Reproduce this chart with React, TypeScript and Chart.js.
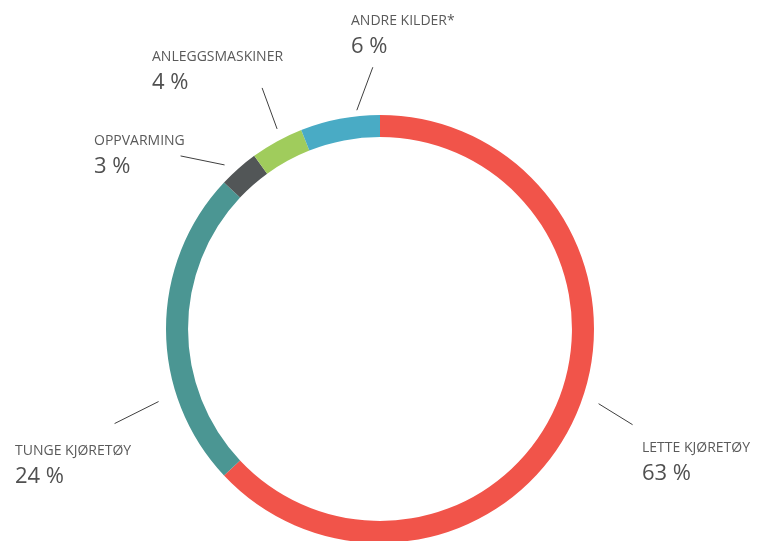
import React, { useEffect, useRef } from "react";
import { Chart, registerables } from "chart.js";

Chart.register(...registerables);

const categories = ["LETTE KJØRETØY", "TUNGE KJØRETØY", "OPPVARMING", "ANLEGGSMASKINER", "ANDRE KILDER*"];
const shares = [63, 24, 3, 4, 6];
const percentLabels = ["63 %", "24 %", "3 %", "4 %", "6 %"];
const colors = ["#F1544A", "#4B9693", "#525657", "#A0CC5C", "#49ABC5"];

// annotation layout: where along each arc the leader line starts, gap from the ring,
// line vector, and text anchor relative to chart centre
const leaderFrac = [0.48, 0.29, 0.31, 0.61, 0.72];
const leaderGap = [17, 19, 12, 11, 6];
const leaderVec = [[34, 21], [-44, 22], [-44, -9], [-15, -41], [16, -43]];
const textPos = [[262, 123], [-365, 126], [-286, -184], [-228, -268], [-29, -304]];

const labelPlugin = {
  id: "leaderLabels",
  afterDraw(chart: any) {
    const ctx = chart.ctx;
    const meta = chart.getDatasetMeta(0);
    ctx.save();
    meta.data.forEach((arc: any, i: number) => {
      const { x: cx, y: cy, startAngle, endAngle, outerRadius } = arc.getProps(
        ["x", "y", "startAngle", "endAngle", "outerRadius"],
        true
      );
      const a = startAngle + (endAngle - startAngle) * leaderFrac[i];
      const r = outerRadius + leaderGap[i];
      const sx = cx + Math.cos(a) * r;
      const sy = cy + Math.sin(a) * r;
      ctx.beginPath();
      ctx.strokeStyle = "#3f3f3f";
      ctx.lineWidth = 1;
      ctx.moveTo(sx, sy);
      ctx.lineTo(sx + leaderVec[i][0], sy + leaderVec[i][1]);
      ctx.stroke();

      const tx = cx + textPos[i][0];
      const ty = cy + textPos[i][1];
      ctx.textAlign = "left";
      ctx.textBaseline = "alphabetic";
      ctx.fillStyle = "#5a5a5a";
      ctx.font = "14px 'Open Sans'";
      ctx.fillText(categories[i], tx, ty);
      ctx.fillStyle = "#505050";
      ctx.font = "22px 'Open Sans'";
      ctx.fillText(percentLabels[i], tx, ty + 28);
    });
    ctx.restore();
  },
};

export default function App() {
  const ref = useRef<HTMLCanvasElement>(null);
  useEffect(() => {
    if (!ref.current) return;
    const chart = new Chart(ref.current, {
      type: "doughnut",
      data: {
        labels: categories,
        datasets: [
          {
            data: shares,
            backgroundColor: colors,
            borderWidth: 0,
            hoverOffset: 0,
          },
        ],
      },
      options: {
        responsive: false,
        animation: false,
        cutout: "89.7%",
        layout: { padding: { left: 166, right: 177, top: 115, bottom: 17 } },
        plugins: {
          legend: { display: false },
          tooltip: { enabled: false },
        },
      },
      plugins: [labelPlugin],
    });
    return () => chart.destroy();
  }, []);
  return (
    <div style={{ position: "fixed", top: 0, left: 0, width: 771, height: 560, background: "#fff" }}>
      <canvas ref={ref} width={771} height={560} />
    </div>
  );
}
